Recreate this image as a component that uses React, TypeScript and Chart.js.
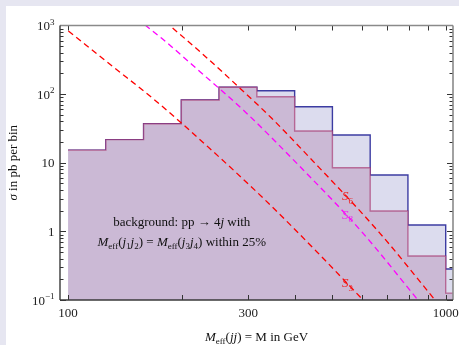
import React, { useEffect, useRef } from 'react';
import { Chart, registerables } from 'chart.js';

Chart.register(...registerables);

// ---- data ----
const binEdges = [100, 125.9, 158.5, 199.5, 251.2, 316.2, 398.1, 501.2, 631.0, 794.3, 1000, 1258.9];
// background before the Meff-equality cut (blue outline)
const bgAll = [15.3, 21.7, 37.1, 82.1, 125.8, 112.2, 65.6, 25.4, 6.63, 1.24, 0.283];
// background with Meff(j1j2)=Meff(j3j4) within 25% (purple)
const bgCut = [15.3, 21.7, 37.1, 82.1, 125.8, 91.7, 29.0, 8.47, 1.98, 0.438, 0.126];

const s6Mass = [180.6, 187.4, 223.6, 282.4, 346.2, 421.5, 669.9, 936.9];
const s6Sigma = [1144, 960.5, 415, 128.3, 44.4, 14.5, 0.937, 0.1];
const s8Mass = [159.9, 177.0, 223.6, 294.2, 419.7, 599.1, 851.5];
const s8Sigma = [1017, 651, 212.2, 55.4, 7.84, 0.989, 0.0944];
const s3Mass = [100.2, 130.8, 171.7, 237.7, 332.4, 455.5, 607.7];
const s3Sigma = [831, 257, 77.6, 16.0, 2.87, 0.506, 0.0967];

const xTickLabels = [100, 300, 1000];
const xTickMarks = [100, 200, 300, 400, 500, 600, 700, 800, 900, 1000];
const yTickLabels = [0.1, 1, 10, 100, 1000];

const FONT = '"Liberation Serif", "Times New Roman", serif';

type Seg = { t: string; it?: boolean; sub?: boolean; sup?: boolean };

function segFont(s: Seg, size: number) {
  const sz = s.sub || s.sup ? Math.round(size * 0.7) : size;
  return `${s.it ? 'italic ' : ''}${sz}px ${FONT}`;
}
function richWidth(ctx: CanvasRenderingContext2D, segs: Seg[], size: number) {
  let w = 0;
  for (const s of segs) {
    ctx.font = segFont(s, size);
    w += ctx.measureText(s.t).width;
  }
  return w;
}
function drawRich(
  ctx: CanvasRenderingContext2D,
  segs: Seg[],
  x: number,
  y: number,
  size: number,
  color: string,
  align: 'center' | 'left' | 'right' = 'center'
) {
  const w = richWidth(ctx, segs, size);
  let cx = align === 'center' ? x - w / 2 : align === 'right' ? x - w : x;
  ctx.fillStyle = color;
  ctx.textBaseline = 'alphabetic';
  ctx.textAlign = 'left';
  for (const s of segs) {
    ctx.font = segFont(s, size);
    const dy = s.sub ? size * 0.28 : s.sup ? -size * 0.42 : 0;
    ctx.fillText(s.t, cx, y + dy);
    cx += ctx.measureText(s.t).width;
  }
}

function yLabel(v: number): Seg[] {
  const e = Math.round(Math.log10(v));
  if (e === 0) return [{ t: '1' }];
  if (e === 1) return [{ t: '10' }];
  return [{ t: '10' }, { t: e < 0 ? '\u2212' + -e : String(e), sup: true }];
}

export default function App() {
  const ref = useRef<HTMLCanvasElement>(null);

  useEffect(() => {
    document.body.style.margin = '0';
    const canvas = ref.current!;
    const mkHist = (vals: number[]) => {
      const pts = vals.map((v, i) => ({ x: binEdges[i], y: v }));
      pts.push({ x: binEdges[vals.length], y: vals[vals.length - 1] });
      return pts;
    };
    const mkCurve = (xs: number[], ys: number[]) => xs.map((x, i) => ({ x, y: ys[i] }));

    const decor = {
      id: 'decor',
      beforeDraw(chart: any) {
        const ctx = chart.ctx as CanvasRenderingContext2D;
        ctx.save();
        ctx.fillStyle = '#e6e6f1';
        ctx.fillRect(0, 0, chart.width, chart.height);
        ctx.fillStyle = '#ffffff';
        ctx.fillRect(6, 6, chart.width - 6, chart.height - 6);
        ctx.restore();
      },
      afterDraw(chart: any) {
        const ctx = chart.ctx as CanvasRenderingContext2D;
        const xs = chart.scales.x;
        const ys = chart.scales.y;
        const { left, right, top, bottom } = chart.chartArea;
        ctx.save();
        ctx.setLineDash([]);
        const line = (x1: number, y1: number, x2: number, y2: number) => {
          ctx.beginPath();
          ctx.moveTo(x1, y1);
          ctx.lineTo(x2, y2);
          ctx.stroke();
        };
        // ticks (inward)
        ctx.strokeStyle = '#333';
        ctx.lineWidth = 1;
        for (const v of xTickMarks) {
          const px = Math.round(xs.getPixelForValue(v)) + 0.5;
          line(px, bottom, px, bottom - 5);
          line(px, top, px, top + 5);
        }
        for (const d of [0.1, 1, 10, 100]) {
          for (let k = 1; k <= 9; k++) {
            const v = d * k;
            const len = k === 1 ? 6 : 3.5;
            const py = Math.round(ys.getPixelForValue(v)) + 0.5;
            line(left, py, left + len, py);
            line(right, py, right - len, py);
          }
        }
        // frame
        ctx.lineWidth = 1.6;
        ctx.strokeStyle = '#8a8a8a';
        line(left, top, right, top);
        line(right, top, right, bottom);
        ctx.strokeStyle = '#3a3a3a';
        ctx.lineWidth = 1.4;
        line(left, top, left, bottom);
        line(left, bottom, right, bottom);

        // y tick labels
        for (const v of yTickLabels) {
          const py = ys.getPixelForValue(v);
          drawRich(ctx, yLabel(v), left - 5.5, py + 4.5, 13, '#222', 'right');
        }

        // annotation text
        const ax = xs.getPixelForValue(200);
        drawRich(
          ctx,
          [{ t: 'background: pp \u2192 4' }, { t: 'j', it: true }, { t: ' with' }],
          ax,
          ys.getPixelForValue(1.197),
          13,
          '#111'
        );
        drawRich(
          ctx,
          [
            { t: 'M', it: true }, { t: 'eff', sub: true }, { t: '(' },
            { t: 'j', it: true }, { t: '1', sub: true }, { t: 'j', it: true }, { t: '2', sub: true },
            { t: ') = ' },
            { t: 'M', it: true }, { t: 'eff', sub: true }, { t: '(' },
            { t: 'j', it: true }, { t: '3', sub: true }, { t: 'j', it: true }, { t: '4', sub: true },
            { t: ') within 25%' },
          ],
          ax,
          ys.getPixelForValue(0.622),
          13,
          '#111'
        );

        // curve labels
        const lx = xs.getPixelForValue(531.6);
        drawRich(ctx, [{ t: 'S', it: true }, { t: '6', sub: true }], lx, ys.getPixelForValue(2.87), 13, '#f01818', 'left');
        drawRich(ctx, [{ t: 'S', it: true }, { t: '8', sub: true }], lx, ys.getPixelForValue(1.54), 13, '#f020f0', 'left');
        drawRich(ctx, [{ t: 'S', it: true }, { t: '3', sub: true }], lx, ys.getPixelForValue(0.155), 13, '#f01818', 'left');

        // x axis title
        drawRich(
          ctx,
          [
            { t: 'M', it: true }, { t: 'eff', sub: true }, { t: '(' }, { t: 'jj', it: true },
            { t: ') = M in GeV' },
          ],
          (left + right) / 2,
          340.5,
          13,
          '#111'
        );

        // y axis title
        ctx.save();
        ctx.translate(17, (top + bottom) / 2);
        ctx.rotate(-Math.PI / 2);
        drawRich(ctx, [{ t: '\u03c3', it: true }, { t: ' in pb per bin' }], 0, 0, 13, '#111');
        ctx.restore();

        ctx.restore();
      },
    };

    const dashed = (data: any[], color: string) => ({
      data,
      borderColor: color,
      borderWidth: 1.3,
      borderDash: [6, 4],
      pointRadius: 0,
      fill: false,
      cubicInterpolationMode: 'monotone' as const,
      order: 0,
    });

    const chart = new Chart(canvas, {
      type: 'line',
      data: {
        datasets: [
          dashed(mkCurve(s6Mass, s6Sigma), '#ff0000'),
          dashed(mkCurve(s8Mass, s8Sigma), '#ff00ff'),
          dashed(mkCurve(s3Mass, s3Sigma), '#ff0000'),
          {
            data: mkHist(bgCut),
            stepped: true,
            fill: 'start',
            backgroundColor: '#cbb9d5',
            borderColor: 'rgba(165,45,105,0.62)',
            borderWidth: 1.4,
            pointRadius: 0,
            order: 1,
          } as any,
          {
            data: mkHist(bgAll),
            stepped: true,
            fill: 'start',
            backgroundColor: '#dcdcee',
            borderColor: '#3c3ca2',
            borderWidth: 1.4,
            pointRadius: 0,
            order: 2,
          } as any,
        ],
      },
      options: {
        responsive: false,
        animation: false,
        devicePixelRatio: 1,
        layout: { padding: { top: 25.5, right: 6, left: 0, bottom: 0 } },
        plugins: { legend: { display: false }, tooltip: { enabled: false } },
        scales: {
          x: {
            type: 'logarithmic',
            bounds: 'data',
            min: 95.2,
            max: 1045.5,
            grid: { display: false, drawTicks: false },
            border: { display: false },
            afterBuildTicks: (s: any) => {
              s.ticks = xTickLabels.map((v) => ({ value: v }));
            },
            afterFit: (s: any) => {
              s.height = 45;
              s.paddingLeft = 0;
              s.paddingRight = 0;
            },
            ticks: {
              callback: (v: any) => String(v),
              font: { family: 'Liberation Serif', size: 13 },
              color: '#222',
              padding: 6,
              maxRotation: 0,
              autoSkip: false,
            },
          },
          y: {
            type: 'logarithmic',
            bounds: 'data',
            min: 0.1,
            max: 1000,
            grid: { display: false, drawTicks: false },
            border: { display: false },
            afterBuildTicks: (s: any) => {
              s.ticks = yTickLabels.map((v) => ({ value: v }));
            },
            afterFit: (s: any) => {
              s.width = 60;
              s.paddingTop = 0;
              s.paddingBottom = 0;
            },
            ticks: { display: false },
          },
        },
      } as any,
      plugins: [decor],
    });
    return () => chart.destroy();
  }, []);

  return (
    <div style={{ position: 'fixed', left: 0, top: 0, width: 459, height: 345 }}>
      <canvas ref={ref} width={459} height={345} style={{ display: 'block', width: 459, height: 345 }} />
    </div>
  );
}
